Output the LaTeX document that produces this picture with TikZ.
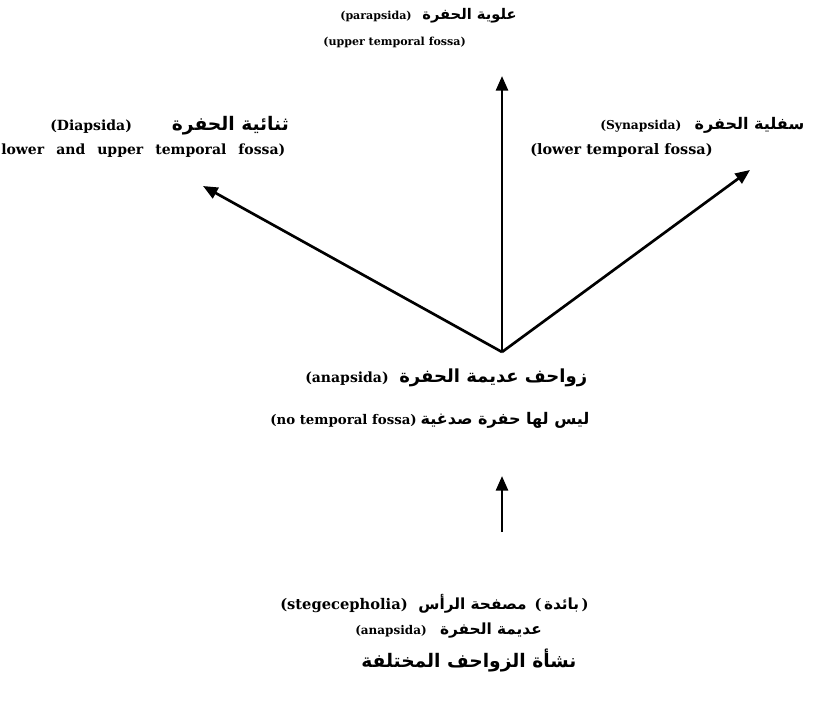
\documentclass[tikz,border=0pt]{standalone}
\usepackage{fontspec}
\setmainfont{DejaVu Serif}
\newfontfamily\arabicfont[Script=Arabic]{DejaVu Sans}
\TeXXeTstate=1
\usetikzlibrary{arrows.meta}
\newcommand\arf[1]{\arabicfont\bfseries\fontsize{#1}{#1}\selectfont}
\newcommand\enf[1]{\bfseries\fontsize{#1}{#1}\selectfont}
\begin{document}
\begin{tikzpicture}[x=0.75pt,y=-0.75pt,
  lbl/.style={inner sep=0pt,anchor=west},
  arr/.style={line width=2pt,-{Triangle[length=11pt,width=9pt]}}]
\useasboundingbox (0,0) rectangle (830,702);
% top
\node[lbl] (top1) at (340,16) {\enf{8.3}(parapsida)\hspace{8pt}{\arf{11}\beginR علوية الحفرة\endR}};
\node[lbl] (top2) at (323,42) {\enf{8.3}(upper temporal fossa)};
% left
\node[lbl] (l1) at (50,126) {\enf{10.5}(Diapsida)\hspace{30pt}{\arf{14}\beginR ثنائية الحفرة\endR}};
\node[lbl] (l2) at (1,151) {\enf{10.5}lower\hspace{9pt}and\hspace{9pt}upper\hspace{9pt}temporal\hspace{9pt}fossa)};
% right
\node[lbl] (r1) at (600,125) {\enf{9.2}(Synapsida)\hspace{10pt}{\arf{12}\beginR سفلية الحفرة\endR}};
\node[lbl] (r2) at (530,151) {\enf{10.8}(lower temporal fossa)};
% middle
\node[lbl] (m1) at (305,378) {\enf{10.5}(anapsida)\hspace{8pt}{\arf{13.5}\beginR زواحف عديمة الحفرة\endR}};
\node[lbl] (m2) at (270,420) {\enf{10}(no temporal fossa)\hspace{3pt}{\arf{12}\beginR ليس لها حفرة صدغية\endR}};
% bottom
\node[lbl] (b1) at (280,604) {\enf{11}(stegecepholia)\hspace{8pt}{\arf{11.5}\beginR مصفحة الرأس\endR}\hspace{6pt}(\,{\arf{11.5}\beginR بائدة\endR}\,)};
\node[lbl] (b2) at (355,631) {\enf{9}(anapsida)\hspace{10pt}{\arf{11.5}\beginR عديمة الحفرة\endR}};
\node[lbl] (b3) at (361,660) {\arf{14}\beginR نشأة الزواحف المختلفة\endR};
% connectors
\coordinate (j) at (502,352);
\coordinate (tu) at (502,76);
\coordinate (tl) at (203,186);
\coordinate (tr) at (750,170);
\coordinate (bs) at (502,532);
\coordinate (bt) at (502,476);
\draw[arr] (j) -- (tu);
\draw[arr] (j) -- (tl);
\draw[arr] (j) -- (tr);
\draw[arr] (bs) -- (bt);
\end{tikzpicture}
\end{document}
